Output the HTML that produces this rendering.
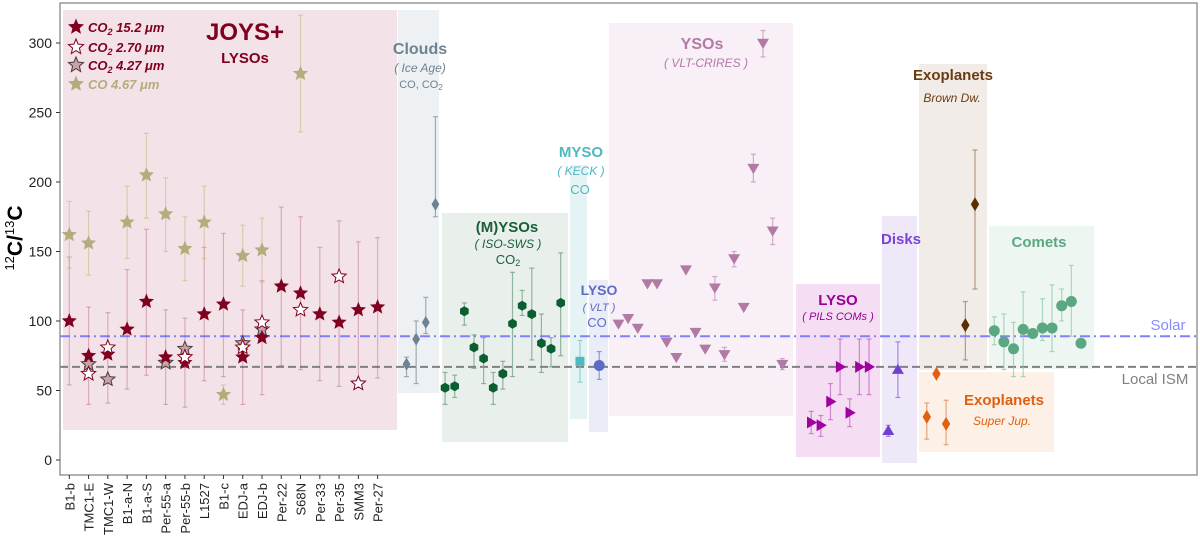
<!DOCTYPE html>
<html><head><meta charset="utf-8"><style>
html,body{margin:0;padding:0;background:#fff;}
svg{display:block;font-family:"Liberation Sans",sans-serif;}
</style></head><body>
<svg id="chart" width="1200" height="536" viewBox="0 0 1200 536" xmlns="http://www.w3.org/2000/svg"></svg>
<script>
// ---- data ----
const joysCats = ["B1-b","TMC1-E","TMC1-W","B1-a-N","B1-a-S","Per-55-a","Per-55-b","L1527","B1-c","EDJ-a","EDJ-b","Per-22","S68N","Per-33","Per-35","SMM3","Per-27"];
const co2_152 = [100,75,76,94,114,74,70,105,112,74,88,125,120,105,99,108,110];
const co2_152_lo = [54,40,41,51,61,40,38,57,60,40,47,68,65,57,53,58,59];
const co2_152_hi = [146,110,106,137,166,108,102,153,163,108,129,182,175,153,172,157,160];
const co2_270_idx = [1,2,6,9,10,12,14,15];
const co2_270 = [62,81,74,81,99,108,132,55];
const co2_427_idx = [1,2,5,6,9,10];
const co2_427 = [69,58,70,80,84,94];
const co_467_idx = [0,1,3,4,5,6,7,8,9,10,12];
const co_467 = [162,156,171,205,177,152,171,47,147,151,278];
const co_467_lo = [138,133,145,174,150,129,145,40,125,128,236];
const co_467_hi = [186,179,197,235,203,175,197,54,169,174,320];

const cloudIdx = [17.5,18,18.5,19];
const cloudVal = [69,87,99,184];
const cloudLo = [60,55,91,175];
const cloudHi = [74,100,117,247];

const mysoIdx = [19.5,20,20.5,21,21.5,22,22.5,23,23.5,24,24.5,25,25.5];
const mysoVal = [52,53,107,81,73,52,62,98,111,105,84,80,113];
const mysoLo = [40,45,97,66,55,40,51,60,104,72,63,67,75];
const mysoHi = [63,61,113,90,88,63,71,135,122,138,105,88,149];

const keckVal = [71], keckLo=[56], keckHi=[86];
const vltVal = [68], vltLo=[58], vltHi=[78];

const crIdx = [28.5,29,29.5,30,30.5,31,31.5,32,32.5,33,33.5,34,34.5,35,35.5,36,36.5,37];
const crVal = [98,102,95,127,127,85,74,137,92,80,124,76,145,110,210,300,165,69];
const crLo = [98,102,95,127,127,85,74,137,92,80,115,71,139,110,200,290,155,65];
const crHi = [98,102,95,127,127,85,74,137,92,80,132,81,150,110,220,309,174,73];

const pilsIdx = [38.5,39,39.5,40,40.5,41,41.5];
const pilsVal = [27,25,42,67,34,67,67];
const pilsLo = [19,17,29,47,24,47,47];
const pilsHi = [35,32,55,87,44,87,87];

const diskIdx = [42.5,43];
const diskVal = [21,65];
const diskLo = [17,45];
const diskHi = [25,85];

const jupIdx = [44.5,45,45.5];
const jupVal = [31,62,26];
const jupLo = [15,62,11];
const jupHi = [41,62,43];

const bdIdx = [46.5,47];
const bdVal = [97,184];
const bdLo = [72,123];
const bdHi = [114,223];

const cometIdx = [48,48.5,49,49.5,50,50.5,51,51.5,52,52.5];
const cometVal = [93,85,80,94,91,95,95,111,114,84];
const cometLo = [83,65,60,60,89,86,78,100,89,81];
const cometHi = [103,105,99,121,93,116,126,123,140,87];

const yTicks = [0,50,100,150,200,250,300];
const solarVal = 89, ismVal = 67;

// ---- scales ----
const X0=60, X1=1197, Y0=3, Y1=475;
const xs = i => 69.3 + 19.27*i;
const ys = v => 460 - 1.39*v;

const svg = document.getElementById('chart');
const NS="http://www.w3.org/2000/svg";
function mk(tag, attrs, parent){
  const e=document.createElementNS(NS,tag);
  for(const k in attrs) e.setAttribute(k,attrs[k]);
  (parent||svg).appendChild(e); return e;
}
function txt(x,y,s,opts,name){
  const t=mk('text',{x:x,y:y,'text-anchor':opts.anchor||'middle','font-size':opts.size||14,'font-weight':opts.weight||'normal','font-style':opts.style||'normal',fill:opts.fill||'#000'});
  t.innerHTML=s;
  
  
  return t;
}
function box(x1,y1,x2,y2,fill,name){
  const r=mk('rect',{x:x1,y:y1,width:x2-x1,height:y2-y1,fill:fill});
  
  
}
// background boxes
box(63,10,397,430,'#f3e3e8','joys-region');
box(398,10,439,393,'#eef1f3','clouds-region');
box(442,213,568,442,'#e9f0eb','mysos-region');
box(570,165,587,419,'#e6f3f5','myso-keck-region');
box(589,280,608,432,'#eaedf8','lyso-vlt-region');
box(609,23,793,416,'#f8f0f6','ysos-crires-region');
box(796,284,880,457,'#f5ddf3','lyso-pils-region');
box(882,216,917,463,'#eee8f9','disks-region');
box(919,64,987,370,'#f1ece7','brown-dwarf-region');
box(919,372,1054,452,'#fcf0e7','super-jupiter-region');
box(989,226,1094,369,'#eef6f2','comets-region');

// reference lines
const sl=mk('line',{x1:X0,x2:X1,y1:ys(solarVal),y2:ys(solarVal),stroke:'#8080ff','stroke-width':2,'stroke-dasharray':'10,4,2,4'});


const il=mk('line',{x1:X0,x2:X1,y1:ys(ismVal),y2:ys(ismVal),stroke:'#808080','stroke-width':2,'stroke-dasharray':'8,4'});



// frame
const fr=mk('rect',{x:X0,y:Y0,width:X1-X0,height:Y1-Y0,fill:'none',stroke:'#888','stroke-width':1.3});



// y ticks
yTicks.forEach(v=>{
  mk('line',{x1:X0-4,x2:X0,y1:ys(v),y2:ys(v),stroke:'#333'});
  txt(X0-8,ys(v)+5,String(v),{anchor:'end',size:14,fill:'#222'},'y-tick-label');
});
// x ticks
joysCats.forEach((c,i)=>{
  mk('line',{x1:xs(i),x2:xs(i),y1:Y1,y2:Y1+4,stroke:'#333'});
  const t=mk('text',{x:0,y:0,transform:`translate(${xs(i)+5},${Y1+8}) rotate(-90)`,'text-anchor':'end','font-size':13,fill:'#222'});
  t.textContent=c;
  
  
});
// y title
const yt=mk('text',{x:0,y:0,transform:'translate(22,238) rotate(-90)','text-anchor':'middle','font-size':21,'font-weight':'bold',fill:'#000'});
yt.innerHTML='<tspan font-size="13" font-weight="normal" dy="-8">12</tspan><tspan dy="8">C/</tspan><tspan font-size="13" font-weight="normal" dy="-8">13</tspan><tspan dy="8">C</tspan>';



// marker helpers
function starPts(cx,cy,r){
  let p=[];for(let k=0;k<10;k++){const a=-Math.PI/2+k*Math.PI/5;const rr=k%2?r*0.45:r;p.push((cx+rr*Math.cos(a)).toFixed(1)+','+(cy+rr*Math.sin(a)).toFixed(1));}
  return p.join(' ');
}
function errbar(x,lo,hi,color,op){
  if(hi-lo<0.5) return;
  const g=mk('g',{stroke:color,'stroke-opacity':op,'stroke-width':1.2});
  mk('line',{x1:x,x2:x,y1:ys(lo),y2:ys(hi)},g);
  mk('line',{x1:x-2.5,x2:x+2.5,y1:ys(lo),y2:ys(lo)},g);
  mk('line',{x1:x-2.5,x2:x+2.5,y1:ys(hi),y2:ys(hi)},g);
  
  
}
function marker(shape,x,y,fill,stroke,size,name){
  let e;
  const s=size;
  if(shape==='star') e=mk('polygon',{points:starPts(x,y,s),fill:fill,stroke:stroke,'stroke-width':1});
  else if(shape==='diamond') e=mk('polygon',{points:`${x},${y-s} ${x+s*0.6},${y} ${x},${y+s} ${x-s*0.6},${y}`,fill:fill,stroke:stroke});
  else if(shape==='hex'){let p=[];for(let k=0;k<6;k++){const a=Math.PI/6+k*Math.PI/3;p.push((x+s*Math.cos(a)).toFixed(1)+','+(y+s*Math.sin(a)).toFixed(1));}e=mk('polygon',{points:p.join(' '),fill:fill});}
  else if(shape==='square') e=mk('rect',{x:x-s,y:y-s,width:2*s,height:2*s,fill:fill});
  else if(shape==='circle') e=mk('circle',{cx:x,cy:y,r:s,fill:fill});
  else if(shape==='tdown') e=mk('polygon',{points:`${x-s},${y-s*0.7} ${x+s},${y-s*0.7} ${x},${y+s}`,fill:fill});
  else if(shape==='tup') e=mk('polygon',{points:`${x-s},${y+s*0.7} ${x+s},${y+s*0.7} ${x},${y-s}`,fill:fill});
  else if(shape==='tright') e=mk('polygon',{points:`${x-s*0.7},${y-s} ${x-s*0.7},${y+s} ${x+s},${y}`,fill:fill});
  
  
}
function series(idx,val,lo,hi,shape,fill,stroke,size,ecol,eop,name){
  val.forEach((v,k)=>{ if(lo) errbar(xs(idx[k]),lo[k],hi[k],ecol,eop); });
  val.forEach((v,k)=>marker(shape,xs(idx[k]),ys(v),fill,stroke,size,name));
}
const allIdx = joysCats.map((c,i)=>i);
// JOYS
series(allIdx,co2_152,co2_152_lo,co2_152_hi,'star','none','none',0,'#a03050',0.3,'co2-152-err');
series(co_467_idx,co_467,co_467_lo,co_467_hi,'star','#b5ab7c','none',8,'#c8b070',0.5,'co-467-point');
series(co2_427_idx,co2_427,null,null,'star','#c9a3ab','#4a3a3a',7.5,'',0,'co2-427-point');
series(allIdx,co2_152,null,null,'star','#800020','none',8,'',0,'co2-152-point');
series(co2_270_idx,co2_270,null,null,'star','#fff','#800020',7.5,'',0,'co2-270-point');
// others
series(cloudIdx,cloudVal,cloudLo,cloudHi,'diamond','#6e8391','none',6.5,'#8a9aa5',0.8,'cloud-point');
series(mysoIdx,mysoVal,mysoLo,mysoHi,'hex','#0b5e30','none',5,'#6a9a80',0.7,'myso-iso-point');
series([26.5],keckVal,keckLo,keckHi,'square','#4fb8c0','none',4.5,'#7ac8cc',0.8,'myso-keck-point');
series([27.5],vltVal,vltLo,vltHi,'circle','#5e6bc6','none',5.5,'#7a85cc',0.8,'lyso-vlt-point');
series(crIdx,crVal,crLo,crHi,'tdown','#b07aa5','none',6,'#c79ac0',0.8,'ysos-crires-point');
series(pilsIdx,pilsVal,pilsLo,pilsHi,'tright','#a000a0','none',6,'#c060c0',0.7,'lyso-pils-point');
series(diskIdx,diskVal,diskLo,diskHi,'tup','#7040d0','none',6,'#9070d8',0.8,'disk-point');
series(jupIdx,jupVal,jupLo,jupHi,'diamond','#e06010','none',7,'#e09060',0.8,'super-jupiter-point');
series(bdIdx,bdVal,bdLo,bdHi,'diamond','#5a3000','none',7,'#a08870',0.8,'brown-dwarf-point');
series(cometIdx,cometVal,cometLo,cometHi,'circle','#5aa882','none',5.5,'#90c8a8',0.7,'comet-point');

// labels
txt(245,40,'JOYS+',{size:24,weight:'bold',fill:'#800020'},'joys-title');
txt(245,63,'LYSOs',{size:15,weight:'bold',fill:'#800020'},'joys-subtitle');
const legend=[['CO<tspan font-size="9" dy="3">2</tspan><tspan dy="-3"> 15.2 μm</tspan>','#800020','#800020','none',8.5],
 ['CO<tspan font-size="9" dy="3">2</tspan><tspan dy="-3"> 2.70 μm</tspan>','#800020','#fff','#800020',8],
 ['CO<tspan font-size="9" dy="3">2</tspan><tspan dy="-3"> 4.27 μm</tspan>','#800020','#c9a3ab','#4a3a3a',8],
 ['CO 4.67 μm','#b5ab7c','#b5ab7c','none',8.5]];
const legY=[27,47,65,84];
legend.forEach((l,k)=>{
  marker('star',76,legY[k],l[2],l[3],l[4],'legend-marker');
  txt(88,legY[k]+5,l[0],{anchor:'start',size:13,style:'italic',weight:'bold',fill:l[1]},'legend-entry');
});
txt(420,54,'Clouds',{size:16,weight:'bold',fill:'#6e8391'},'clouds-label');
txt(420,72,'( Ice Age)',{size:12,style:'italic',fill:'#6e8391'},'clouds-sub');
txt(421,88,'CO, CO<tspan font-size="8" dy="2">2</tspan>',{size:11,fill:'#6e8391'},'clouds-species');
txt(507,232,'(M)YSOs',{size:15,weight:'bold',fill:'#1a5e3a'},'mysos-label');
txt(508,248,'( ISO-SWS )',{size:12,style:'italic',fill:'#1a5e3a'},'mysos-sub');
txt(508,264,'CO<tspan font-size="9" dy="2">2</tspan>',{size:13,fill:'#1a5e3a'},'mysos-species');
txt(581,157,'MYSO',{size:15,weight:'bold',fill:'#4fb8c0'},'myso-label');
txt(581,175,'( KECK )',{size:12,style:'italic',fill:'#4fb8c0'},'myso-sub');
txt(580,194,'CO',{size:13,fill:'#4fb8c0'},'myso-species');
txt(599,295,'LYSO',{size:14,weight:'bold',fill:'#5e6bc6'},'lyso-vlt-label');
txt(599,311,'( VLT )',{size:11,style:'italic',fill:'#5e6bc6'},'lyso-vlt-sub');
txt(597,327,'CO',{size:13,fill:'#5e6bc6'},'lyso-vlt-species');
txt(702,49,'YSOs',{size:16,weight:'bold',fill:'#b27aa8'},'ysos-label');
txt(706,67,'( VLT-CRIRES )',{size:12,style:'italic',fill:'#b27aa8'},'ysos-sub');
txt(838,305,'LYSO',{size:15,weight:'bold',fill:'#990099'},'lyso-pils-label');
txt(838,320,'( PILS COMs )',{size:11,style:'italic',fill:'#990099'},'lyso-pils-sub');
txt(901,244,'Disks',{size:15,weight:'bold',fill:'#7a44d4'},'disks-label');
txt(953,80,'Exoplanets',{size:15,weight:'bold',fill:'#6a3c10'},'brown-dwarf-label');
txt(952,102,'Brown Dw.',{size:12,style:'italic',fill:'#6a3c10'},'brown-dwarf-sub');
txt(1039,247,'Comets',{size:15,weight:'bold',fill:'#5aa882'},'comets-label');
txt(1004,405,'Exoplanets',{size:15,weight:'bold',fill:'#e06010'},'super-jupiter-label');
txt(1002,425,'Super Jup.',{size:12,style:'italic',fill:'#e06010'},'super-jupiter-sub');
txt(1168,330,'Solar',{size:15,fill:'#8a8aff'},'solar-label');
txt(1155,384,'Local ISM',{size:15,fill:'#808080'},'local-ism-label');
</script>
</body></html>
